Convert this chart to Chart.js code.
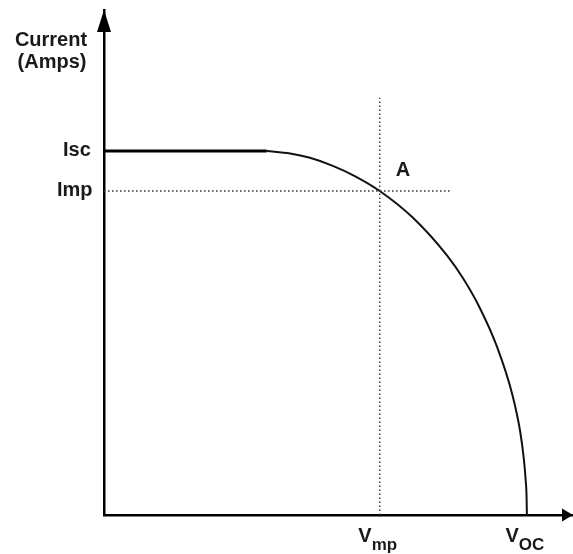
<!DOCTYPE html>
<html>
<head>
<meta charset="utf-8">
<script src="https://cdn.jsdelivr.net/npm/chart.js@4/dist/chart.umd.min.js"></script>
<style>
  html, body { margin: 0; padding: 0; background: #fff; }
  #wrap { width: 573px; height: 554px; position: relative; }
</style>
</head>
<body>
<div id="wrap"><canvas id="c" width="573" height="554"></canvas></div>
<script>
// Normalised voltage (Voc = 1) and current (Isc = 1)
const flatVoltage = [0, 0.385];
const flatCurrent = [1.0, 1.0];
const curveVoltage = [0.385, 0.440, 0.487, 0.541, 0.593, 0.652, 0.730, 0.811, 0.849, 0.889, 0.929, 0.965, 0.984, 0.993, 0.9976, 0.9991, 1.0];
const curveCurrent = [1.0, 0.993, 0.981, 0.959, 0.931, 0.890, 0.817, 0.713, 0.650, 0.568, 0.463, 0.333, 0.230, 0.151, 0.088, 0.056, 0.0];
const Vmp = 0.652, Imp = 0.890, Voc = 1.0, Isc = 1.0;
const vmpLineTop = 1.146;     // top of the dotted Vmp guide
const impLineRight = 0.823;   // right end of the dotted Imp guide
const xMax = 1.109, yMax = 1.387;
const yLabels = ['Isc', 'Imp'];
const xLabels = [['V', 'mp'], ['V', 'OC']];
const axisTitle = ['Current', '(Amps)'];
const pointLabel = 'A';

const toPts = (xs, ys) => xs.map((x, i) => ({ x: x, y: ys[i] }));

const FONT = 'bold 20px "Liberation Sans", Arial, sans-serif';
const SUBFONT = 'bold 17px "Liberation Sans", Arial, sans-serif';

const annot = {
  id: 'annot',
  afterDraw(chart) {
    const ctx = chart.ctx;
    const xs = chart.scales.x, ys = chart.scales.y;
    const ca = chart.chartArea;
    ctx.save();
    ctx.fillStyle = '#000';
    // arrow heads
    const ox = xs.getPixelForValue(0), oy = ys.getPixelForValue(0);
    ctx.beginPath();
    ctx.moveTo(ox, ca.top);
    ctx.lineTo(ox - 7, ca.top + 22);
    ctx.lineTo(ox + 7, ca.top + 22);
    ctx.closePath();
    ctx.fill();
    ctx.beginPath();
    ctx.moveTo(ca.right, oy);
    ctx.lineTo(ca.right - 11, oy - 6.5);
    ctx.lineTo(ca.right - 11, oy + 6.5);
    ctx.closePath();
    ctx.fill();

    ctx.font = FONT;
    ctx.fillStyle = '#1a1a1a';
    ctx.textBaseline = 'middle';
    // axis title
    ctx.textAlign = 'center';
    ctx.fillText(axisTitle[0], 51, 40);
    ctx.fillText(axisTitle[1], 52, 62);
    // y labels
    ctx.textAlign = 'left';
    ctx.fillText(yLabels[0], 63, ys.getPixelForValue(Isc));
    ctx.fillText(yLabels[1], 57, ys.getPixelForValue(Imp));
    // point A
    ctx.fillText(pointLabel, xs.getPixelForValue(Vmp) + 16, ys.getPixelForValue(Imp) - 20);
    // x labels with subscripts
    ctx.textBaseline = 'alphabetic';
    const drawSub = (parts, cx) => {
      ctx.font = FONT;
      const w1 = ctx.measureText(parts[0]).width;
      ctx.font = SUBFONT;
      const w2 = ctx.measureText(parts[1]).width;
      const left = cx - (w1 + w2) / 2;
      ctx.font = FONT;
      ctx.fillText(parts[0], left, 542);
      ctx.font = SUBFONT;
      ctx.fillText(parts[1], left + w1, 550);
    };
    drawSub(xLabels[0], xs.getPixelForValue(Vmp) - 2);
    drawSub(xLabels[1], xs.getPixelForValue(Voc) - 2);
    ctx.restore();
  }
};

new Chart(document.getElementById('c'), {
  type: 'scatter',
  data: {
    datasets: [
      {
        data: [{ x: 0, y: Imp }, { x: impLineRight, y: Imp }],
        showLine: true, borderColor: '#3a3a3a', borderWidth: 1.4, borderDash: [1.6, 2.4],
        pointRadius: 0, fill: false
      },
      {
        data: [{ x: Vmp, y: 0 }, { x: Vmp, y: vmpLineTop }],
        showLine: true, borderColor: '#3a3a3a', borderWidth: 1.4, borderDash: [1.6, 2.4],
        pointRadius: 0, fill: false
      },
      {
        data: toPts(flatVoltage, flatCurrent),
        showLine: true, borderColor: '#000', borderWidth: 3,
        pointRadius: 0, fill: false
      },
      {
        data: toPts(curveVoltage, curveCurrent),
        showLine: true, borderColor: '#111', borderWidth: 2,
        cubicInterpolationMode: 'monotone',
        pointRadius: 0, fill: false
      }
    ]
  },
  options: {
    responsive: false,
    animation: false,
    events: [],
    layout: { padding: { left: 104, right: 0, top: 10, bottom: 39 } },
    plugins: { legend: { display: false }, tooltip: { enabled: false } },
    scales: {
      x: {
        type: 'linear', min: 0, max: xMax,
        grid: { display: false, drawTicks: false },
        border: { display: true, color: '#000', width: 2.5 },
        ticks: { display: false }
      },
      y: {
        type: 'linear', min: 0, max: yMax,
        grid: { display: false, drawTicks: false },
        border: { display: true, color: '#000', width: 2.5 },
        ticks: { display: false }
      }
    }
  },
  plugins: [annot]
});
</script>
</body>
</html>
